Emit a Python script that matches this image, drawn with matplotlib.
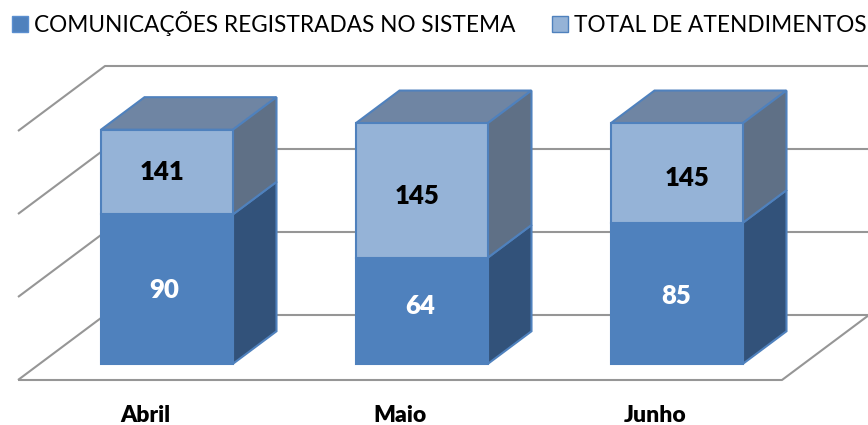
import numpy as np
import matplotlib
matplotlib.use('Agg')
import matplotlib.pyplot as plt
from matplotlib.patches import Patch

meses = ['Abril', 'Maio', 'Junho']
comunicacoes = [90, 64, 85]
atendimentos = [141, 145, 145]
nome_com = 'COMUNICAÇÕES REGISTRADAS NO SISTEMA'
nome_ate = 'TOTAL DE ATENDIMENTOS'
grade = [0, 50, 100, 150]

# escala: 255 px por categoria, 1.66 px por unidade
px_x = 255.0
px_y = 1.66
dx = 87 / px_x   # deslocamento da profundidade total
dy = 65 / px_y
larg = 66 / px_x
x_ini = -0.499
x_fim = 2.497

plt.rcParams['font.family'] = ['Lato', 'DejaVu Sans']

fig = plt.figure(figsize=(8.68, 4.25), dpi=100)
ax = fig.add_axes([0, 0, 1, 1])
ax.set_xlim(-145.25 / px_x, (868 - 145.25) / px_x)
ax.set_ylim(-45 / px_y, 380 / px_y)
ax.axis('off')


def proj(x, v, d):
    return x + d * dx, v + d * dy


def linha(pontos):
    xs, ys = zip(*pontos)
    ax.plot(xs, ys, color='#969696', lw=1.5, zorder=1, solid_capstyle='butt')


# grade e chao
for g in grade:
    linha([proj(x_ini, g, 0), proj(x_ini, g, 1), proj(x_fim, g, 1)])
linha([proj(x_ini, 0, 0), proj(x_fim, 0, 0), proj(x_fim, 0, 1)])


def caixa(x, v0, v1, cor_frente, cor_lado, cor_topo=None):
    d0, d1 = 0.25, 0.75
    e, r = x - larg, x + larg
    if cor_topo:
        ax.fill(*zip(proj(e, v1, d0), proj(r, v1, d0), proj(r, v1, d1), proj(e, v1, d1)),
                facecolor=cor_topo, edgecolor='#4F81BD', lw=1.5, zorder=3)
    ax.fill(*zip(proj(r, v0, d0), proj(r, v0, d1), proj(r, v1, d1), proj(r, v1, d0)),
            facecolor=cor_lado, edgecolor='#4F81BD', lw=1.5, zorder=3)
    ax.fill(*zip(proj(e, v0, d0), proj(r, v0, d0), proj(r, v1, d0), proj(e, v1, d0)),
            facecolor=cor_frente, edgecolor='#4F81BD', lw=1.5, zorder=4)


for i in range(len(meses)):
    caixa(i, 0, comunicacoes[i], '#4F81BD', '#32527A')
    caixa(i, comunicacoes[i], atendimentos[i], '#95B3D7', '#5F7086', '#6F85A3')

# ajustes dos rotulos em px, como no original
ajuste_com = [(-3, -1), (-2, 5), (-1, -3)]
ajuste_ate = [(-5, 0), (-5, -6), (10, -5)]
for i in range(len(meses)):
    x, y = proj(i, comunicacoes[i] / 2, 0.25)
    ax.annotate(str(comunicacoes[i]), (x, y), xytext=(ajuste_com[i][0] * 0.72, ajuste_com[i][1] * 0.72),
                textcoords='offset points', ha='center', va='center', color='white',
                fontsize=18.5, fontweight='heavy', zorder=5)
    x, y = proj(i, (comunicacoes[i] + atendimentos[i]) / 2, 0.25)
    ax.annotate(str(atendimentos[i]), (x, y), xytext=(ajuste_ate[i][0] * 0.72, ajuste_ate[i][1] * 0.72),
                textcoords='offset points', ha='center', va='center', color='black',
                fontsize=18.5, fontweight='heavy', zorder=5)
    ax.annotate(meses[i], (i, 0), xytext=(0, -35 * 0.72), textcoords='offset points',
                ha='center', va='center', fontsize=16.5, fontweight='heavy', zorder=5)

handles = [Patch(facecolor='#4F81BD', edgecolor='#5B8FD0', label=nome_com),
           Patch(facecolor='#95B3D7', edgecolor='#4F81BD', label=nome_ate)]
ax.legend(handles=handles, ncol=2, loc='upper left', bbox_to_anchor=(0.014, 0.975), frameon=False,
          fontsize=16.3, handlelength=0.7, handleheight=0.7, handletextpad=0.27,
          columnspacing=1.6, borderpad=0, borderaxespad=0)

fig.savefig('out.png', dpi=100)
